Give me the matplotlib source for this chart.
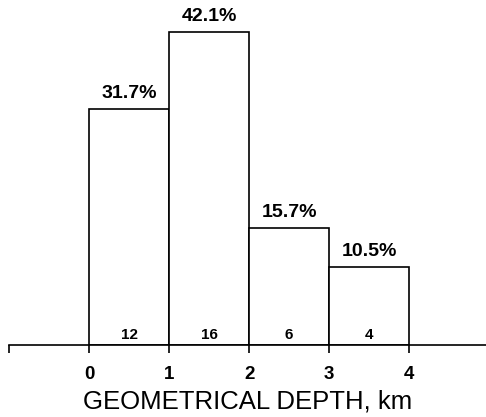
import matplotlib.pyplot as plt

# depth bins (km), share of events and counts
bin_left = [0, 1, 2, 3]
percent = [31.7, 42.1, 15.7, 10.5]
counts = [12, 16, 6, 4]
tick_pos = [-1, 0, 1, 2, 3, 4]
tick_labels = ['', '0', '1', '2', '3', '4']

plt.rcParams['font.family'] = ['Liberation Sans', 'DejaVu Sans']

fig = plt.figure(figsize=(4.86, 4.17), dpi=100)
ax = fig.add_axes([9 / 486, 72 / 417, 477 / 486, 335 / 417])

ax.bar(bin_left, percent, width=1.0, align='edge', color='white',
       edgecolor='black', linewidth=1.2)

for x, p, c in zip(bin_left, percent, counts):
    ax.text(x + 0.5, p + 0.9, f'{p}%', ha='center', va='bottom',
            fontsize=14, fontweight='bold')
    ax.text(x + 0.5, 0.35, str(c), ha='center', va='bottom',
            fontsize=11, fontweight='bold')

ax.set_xlim(-1, 4.96)
ax.set_ylim(0, 45)
for side in ['top', 'right', 'left']:
    ax.spines[side].set_visible(False)
ax.spines['bottom'].set_linewidth(1.2)
ax.set_yticks([])
ax.set_xticks(tick_pos)
ax.set_xticklabels(tick_labels, fontsize=13.5, fontweight='bold')
ax.tick_params(axis='x', direction='out', length=6, width=1.2, pad=9)
ax.set_xlabel('GEOMETRICAL DEPTH, km', fontsize=18.5, labelpad=4.5)

fig.savefig('out.png', dpi=100)
